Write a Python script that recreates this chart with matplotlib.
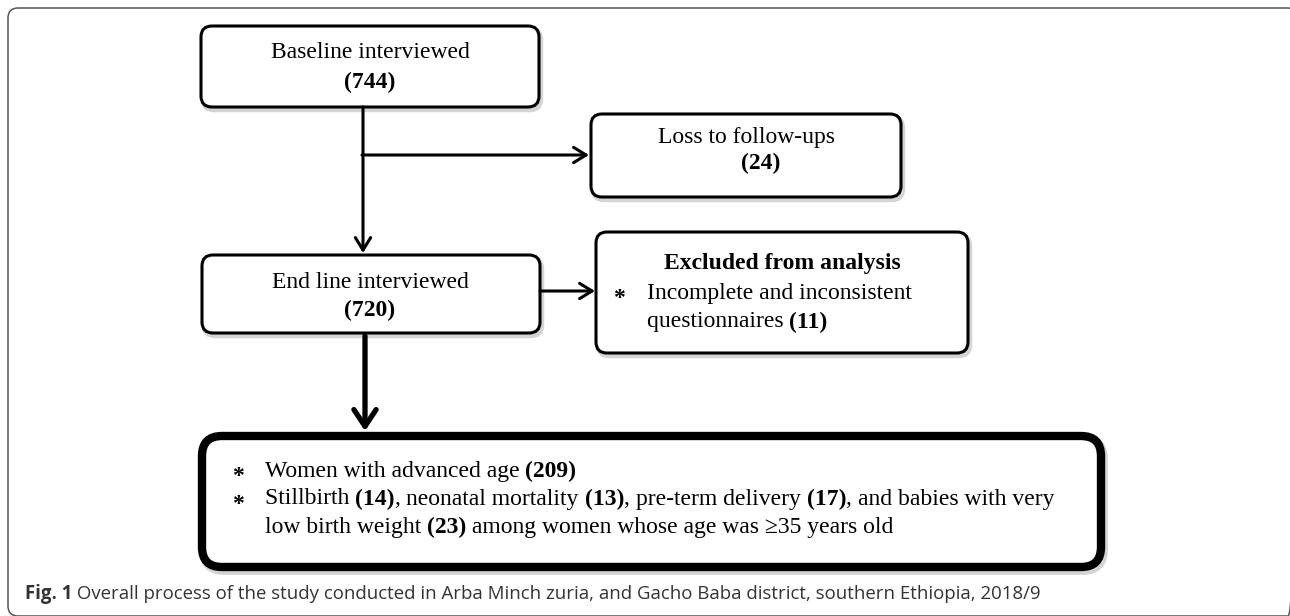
import matplotlib
matplotlib.use('Agg')
import matplotlib.pyplot as plt
from matplotlib.patches import FancyBboxPatch

# flow chart content
stage_labels = ['Baseline interviewed', 'End line interviewed']
stage_counts = [744, 720]
loss_label = 'Loss to follow-ups'
loss_count = 24
excl_title = 'Excluded from analysis'
excl_reason = ['Incomplete and inconsistent', 'questionnaires']
excl_count = 11
advanced_age_label = 'Women with advanced age'
advanced_age_count = 209
outcome_labels = ['Stillbirth', 'neonatal mortality', 'pre-term delivery']
outcome_counts = [14, 13, 17]
vlbw_count = 23
caption_bold = 'Fig. 1'
caption_text = (' Overall process of the study conducted in Arba Minch zuria, '
                'and Gacho Baba district, southern Ethiopia, 2018/9')

SERIF = 'Liberation Serif'
FS = 17

fig = plt.figure(figsize=(12.9, 6.16), dpi=100)
ax = fig.add_axes([0, 0, 1, 1])
ax.set_xlim(0, 1290)
ax.set_ylim(616, 0)
ax.axis('off')
renderer = fig.canvas.get_renderer()


def width(s, bold, size=FS, family=SERIF):
    w = 'bold' if bold else 'normal'
    t = ax.text(0, 0, 'x' + s + 'x', fontsize=size, fontweight=w, family=family)
    w1 = t.get_window_extent(renderer).width
    t.remove()
    t = ax.text(0, 0, 'xx', fontsize=size, fontweight=w, family=family)
    w2 = t.get_window_extent(renderer).width
    t.remove()
    return w1 - w2


def runs(x, y, parts, size=FS, family=SERIF, ha='left', color='black'):
    if ha == 'center':
        x = x - sum(width(s, b, size, family) for s, b in parts) / 2
    for s, b in parts:
        ax.text(x, y, s, fontsize=size, fontweight='bold' if b else 'normal',
                family=family, va='center', ha='left', color=color, zorder=4)
        x += width(s, b, size, family)


def bullet(x, y):
    ax.text(x, y + 5, '*', fontsize=FS, fontweight='bold', family=SERIF,
            va='center', ha='left', zorder=4)


def box(x0, y0, x1, y1, lw=2.2, r=11):
    # soft shadow then the box itself
    ax.add_patch(FancyBboxPatch((x0 + 2, y0 + 3), x1 - x0, y1 - y0,
                                boxstyle='round,pad=0,rounding_size=%d' % r,
                                lw=lw + 1, ec='#d4d4d4', fc='none', zorder=1))
    ax.add_patch(FancyBboxPatch((x0, y0), x1 - x0, y1 - y0,
                                boxstyle='round,pad=0,rounding_size=%d' % r,
                                lw=lw, ec='black', fc='white', zorder=2))


def arrow(x0, y0, x1, y1, lw=2.2, hl=0.9, hw=0.55):
    ax.annotate('', xy=(x1, y1), xytext=(x0, y0), zorder=3,
                arrowprops=dict(arrowstyle='->,head_length=%s,head_width=%s' % (hl, hw),
                                lw=lw, color='black', shrinkA=0, shrinkB=0))


# outer frame
ax.add_patch(FancyBboxPatch((8, 8), 1290, 608, boxstyle='round,pad=0,rounding_size=10',
                            lw=1.1, ec='#555555', fc='none', zorder=1))

# boxes
box(201, 26, 539, 107)
box(591, 114, 901, 197)
box(202, 255, 540, 333)
box(596, 232, 968, 353)
box(202, 436, 1101, 567, lw=6, r=20)

# connectors
arrow(363, 107, 363, 253)
arrow(362, 155, 589, 155)
arrow(540, 291, 595, 291)
arrow(365, 336, 365, 431, lw=3.8, hl=1.2, hw=0.8)

# box texts
runs(370, 53, [(stage_labels[0], False)], ha='center')
runs(370, 82, [('(%d)' % stage_counts[0], True)], ha='center')
runs(746, 138, [(loss_label, False)], ha='center')
runs(761, 163, [('(%d)' % loss_count, True)], ha='center')
runs(370, 283, [(stage_labels[1], False)], ha='center')
runs(370, 310, [('(%d)' % stage_counts[1], True)], ha='center')

runs(782, 263, [(excl_title, True)], ha='center')
bullet(613, 293)
runs(647, 293, [(excl_reason[0], False)])
runs(647, 322, [(excl_reason[1] + ' ', False), ('(%d)' % excl_count, True)])

bullet(232, 471)
runs(265, 471, [(advanced_age_label + ' ', False), ('(%d)' % advanced_age_count, True)])
bullet(232, 499)
line2 = []
for lab, c in zip(outcome_labels, outcome_counts):
    line2.append((lab + ' ', False))
    line2.append(('(%d)' % c, True))
    line2.append((', ', False))
line2.append(('and babies with very', False))
runs(265, 499, line2)
runs(265, 527, [('low birth weight ', False), ('(%d)' % vlbw_count, True),
                (' among women whose age was \u226535 years old', False)])

# caption
runs(25, 594, [(caption_bold, True), (caption_text, False)], size=13.4,
     family='Open Sans', color='#333333')

fig.savefig('out.png', dpi=100)
